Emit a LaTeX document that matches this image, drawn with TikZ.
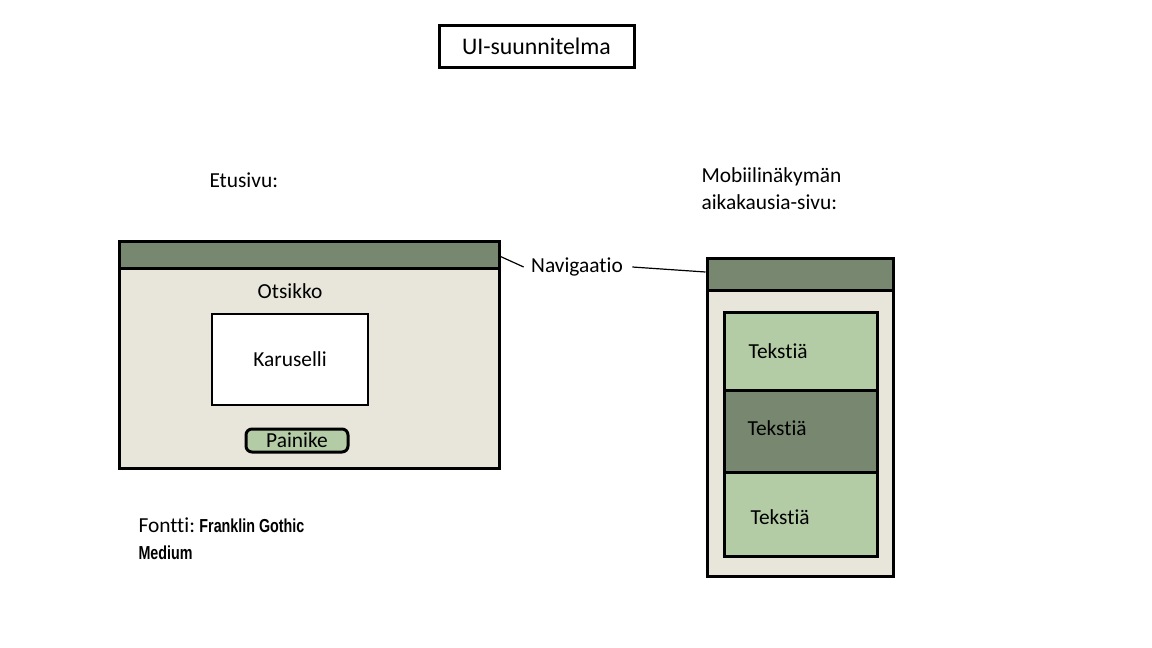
\documentclass[tikz,border=0pt]{standalone}
\usepackage{fontspec}
\setmainfont[Ligatures=CommonOff]{Carlito}
\newfontfamily\franklin[FakeStretch=0.76]{Liberation Sans}
\definecolor{navgreen}{HTML}{788870}
\definecolor{pagebeige}{HTML}{E8E6DA}
\definecolor{panelgreen}{HTML}{B4CCA6}
\begin{document}
\begin{tikzpicture}[x=0.5pt, y=-0.5pt, line width=1.5pt]
\tikzset{wbox/.style={draw, black, rectangle, inner sep=0, minimum width=#1},
  lab/.style={inner sep=0, font=\fontsize{10.7}{13.5}\selectfont},
  navbar/.style={wbox=#1, fill=navgreen, minimum height=14pt}}
\useasboundingbox[fill=white] (0,0) rectangle (1152,648);
%% title
\node [wbox=97.5pt, minimum height=21pt, font=\fontsize{11.9}{14}\selectfont] (title) at (536.5,46) {UI-suunnitelma};

%% front page
\node[lab, anchor=west] (frontlab) at (208,180) {Etusivu:};
\node [wbox=190pt, minimum height=113.5pt, fill=pagebeige] (front) at (309,354.5) {};
\node [navbar=190pt, minimum height=13.5pt] (frontnav) at (309,254.5) {};
\node[lab] (heading) at (290,291) {Otsikko};
\node [wbox=78pt, minimum height=45.5pt, fill=white, line width=1.25pt, lab] (carousel) at (290,359.5) {Karuselli};
\node [wbox=51pt, minimum height=11.5pt, fill=panelgreen, rounded corners=3pt, lab] (button) at (297,440.5) {Painike};

%% mobile page
\node[lab, anchor=west, align=left] (mobilelab) at (700,189) {Mobiilinäkymän\\aikakausia-sivu:};
\node [wbox=93pt, minimum height=159pt, fill=pagebeige] (mobile) at (800,417) {};
\node [navbar=93pt, minimum height=16pt] (mobilenav) at (800,274) {};
\node [wbox=76.5pt, minimum height=39pt, fill=panelgreen] (panela) at (800.5,351) {};
\node [wbox=76.5pt, minimum height=41pt, fill=navgreen] (panelb) at (800.5,431) {};
\node [wbox=76.5pt, minimum height=42pt, fill=panelgreen] (panelc) at (800.5,514) {};
\node[lab, anchor=west] (texta) at (747,351) {Tekstiä};
\node[lab, anchor=west] (textb) at (746,428) {Tekstiä};
\node[lab, anchor=west] (textc) at (749,517) {Tekstiä};

%% navigation label
\node[lab] (navlab) at (577,267) {Navigaatio};
\draw [line width=0.6pt] (frontnav.east) ++(0,2) -- ([xshift=-3pt]navlab.west);
\draw [line width=0.6pt] ([xshift=4pt]navlab.east) -- ([yshift=1pt]mobilenav.west);

%% font note
\node[lab, anchor=north west, align=left] (fontnote) at (137,516) {Fontti:\hspace{-1pt} {\franklin\bfseries\fontsize{9.4}{12}\selectfont Franklin Gothic}\\{\franklin\bfseries\fontsize{9.4}{12}\selectfont Medium}};
\end{tikzpicture}
\end{document}
